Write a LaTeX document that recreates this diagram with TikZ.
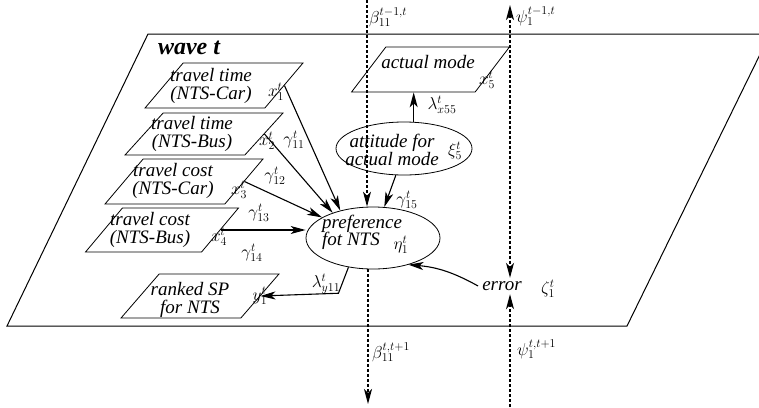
\documentclass[tikz,border=0pt]{standalone}
\usepackage{fontspec}
\setmainfont{Liberation Serif}
\usetikzlibrary{arrows.meta,shapes.geometric}
\begin{document}
\begin{tikzpicture}[x=1pt,y=-1pt,
 every node/.style={inner sep=0pt},
 box/.style={draw, line width=0.8pt, trapezium, trapezium left angle=65, trapezium right angle=115, trapezium stretches=true, minimum width=158pt, minimum height=45pt, inner sep=3pt},
 txt/.style={font=\fontsize{19}{17.5}\selectfont\itshape, align=center},
 lab/.style={font=\fontsize{18}{18}\selectfont},
 ell/.style={draw, line width=0.8pt, ellipse, inner sep=0pt},
 >={Stealth[length=15pt,width=8pt,inset=4pt]},
 arr/.style={line width=1.1pt, ->},
 arrb/.style={line width=1.1pt, <->},
 dsh/.style={dash pattern=on 3pt off 2pt},
]
\useasboundingbox (0,0) rectangle (759,407);
\begin{scope}
\clip (0,0) rectangle (759,407);
\draw[line width=1pt] (148,34) -- (770,34) -- (627,326) -- (7,326) -- cycle;
\end{scope}
\node[font=\fontsize{24}{24}\selectfont\bfseries\itshape] (wave) at (189,48) {wave t};

% boxes
\node[box] (b1) at (224,85.5) {};
\node[box, minimum height=42pt] (b2) at (204,134) {};
\node[box] (b3) at (184,181.5) {};
\node[box, minimum height=44pt, minimum width=153pt] (b4) at (162,230) {};
\node[box, minimum height=44pt] (b5) at (200,296) {};
\node[box, trapezium left angle=69, trapezium right angle=111] (am) at (430.5,69.5) {};

\node[txt] (t1) at (211,86) {travel time\\(NTS-Car)};
\node[txt] (t2) at (192,134) {travel time\\(NTS-Bus)};
\node[txt] (t3) at (173,181) {travel cost\\(NTS-Car)};
\node[txt] (t4) at (150,230) {travel cost\\(NTS-Bus)};
\node[txt] (t5) at (190,300) {ranked SP\\for NTS};
\node[txt] (tam) at (428,62) {actual mode};

\node[lab] (x1) at (276,92) {$x^t_1$};
\node[lab] (x2) at (267,141) {$x^t_2$};
\node[lab] (x3) at (239,190) {$x^t_3$};
\node[lab] (x4) at (219,237) {$x^t_4$};
\node[lab] (y1) at (260,296) {$y^t_1$};
\node[lab] (x5) at (487,80) {$x^t_5$};

% ellipses
\node[ell, minimum width=136pt, minimum height=53pt] (att) at (404,148.5) {};
\node[ell, minimum width=134pt, minimum height=62pt] (pref) at (373,238) {};
\node[txt] (tatt) at (392,150) {attitude for\\actual mode};
\node[lab] (xi5) at (455,151) {$\xi^t_5$};
\node[txt, align=left, anchor=west] (tpref) at (322,232.5) {preference\\fot NTS};
\node[lab] (eta1) at (401,245) {$\eta^t_1$};

\node[txt, text height=8pt, text depth=0pt, inner sep=4pt] (err) at (502,286) {error};
\node[lab] (zeta1) at (548,289) {$\zeta^t_1$};

% labels
\node[lab] (g11) at (294,140) {$\gamma^t_{11}$};
\node[lab] (g12) at (275,176) {$\gamma^t_{12}$};
\node[lab] (g13) at (259,213) {$\gamma^t_{13}$};
\node[lab] (g14) at (252,253) {$\gamma^t_{14}$};
\node[lab] (g15) at (407,200) {$\gamma^t_{15}$};
\node[lab] (lx55) at (442,105) {$\lambda^t_{x55}$};
\node[lab] (ly11) at (326,284) {$\lambda^t_{y11}$};
\node[lab, anchor=west] (bt1) at (369,17) {$\beta^{t-1,t}_{11}$};
\node[lab, anchor=west] (bt2) at (372,352) {$\beta^{t,t+1}_{11}$};
\node[lab, anchor=west] (ps1) at (516,16) {$\psi^{t-1,t}_{1}$};
\node[lab, anchor=west] (ps2) at (517,349) {$\psi^{t,t+1}_{1}$};

% connectors
\draw[arr] (b1.east) -- (pref.140);
\draw[arr] (b2.east) -- (pref.148);
\draw[arr] (b3.east) -- (pref.158);
\draw[arr] (b4.east) -- (b4.east -| pref.west);
\draw[arr] (att.253) -- (pref.70);
\draw[arr] (att.70) -- (att.70 |- am.south);
\draw[arr] (pref.230) -- ++(-10,26) -- (b5.east);
\draw[arr] (err.west) to[bend right=12] (pref.323);

\coordinate (btop) at (367,0);
\coordinate (bbot) at (368,404);
\coordinate (ptop) at (510,5);
\coordinate (pbot) at (510,407);
\draw[arr, dsh] (btop) -- (btop |- pref.north);
\draw[arr, dsh] (pref.south -| bbot) -- (bbot);
\draw[arrb, dsh] (ptop) -- (ptop |- err.north);
\draw[arr, dsh] (pbot) -- (pbot |- err.south);
\end{tikzpicture}
\end{document}
